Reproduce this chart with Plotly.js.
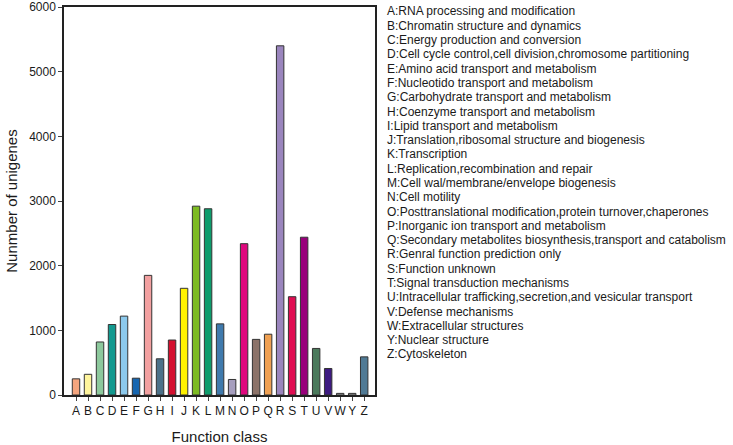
<!DOCTYPE html>
<html>
<head>
<meta charset="utf-8">
<script src="https://cdn.plot.ly/plotly-3.0.1.min.js"></script>
<style>
  html, body { margin: 0; padding: 0; background: #fff; }
  #chart { width: 733px; height: 445px; }
</style>
</head>
<body>
<div id="chart"></div>
<script>
// COG function classes (X is not present in the figure)
const classes = ["A", "B", "C", "D", "E", "F", "G", "H", "I", "J", "K", "L", "M",
                 "N", "O", "P", "Q", "R", "S", "T", "U", "V", "W", "Y", "Z"];

// number of unigenes per class
const counts = [250, 320, 820, 1090, 1220, 260, 1850, 560, 850, 1650, 2920, 2880, 1100,
                240, 2340, 860, 940, 5400, 1520, 2440, 720, 410, 25, 25, 590];

const barColors = ["#F4A57E", "#FFF59D", "#8DC99D", "#13998F", "#8CC9EC", "#1666B0",
                   "#F2A0A0", "#4B7189", "#D4102F", "#FFF200", "#7DBB22", "#0E9C6C",
                   "#3F7AAD", "#A69EBE", "#DF087E", "#8C7369", "#EFA052", "#9A85BD",
                   "#E00D52", "#98007B", "#4B7A5C", "#3D1A80", "#ABABAB", "#ABABAB", "#507A95"];

const descriptions = [
    "A:RNA processing and modification",
    "B:Chromatin structure and dynamics",
    "C:Energy production and conversion",
    "D:Cell cycle control,cell division,chromosome partitioning",
    "E:Amino acid transport and metabolism",
    "F:Nucleotido transport and metabolism",
    "G:Carbohydrate transport and metabolism",
    "H:Coenzyme transport and metabolism",
    "I:Lipid transport and metabolism",
    "J:Translation,ribosomal structure and biogenesis",
    "K:Transcription",
    "L:Replication,recombination and repair",
    "M:Cell wal/membrane/envelope biogenesis",
    "N:Cell motility",
    "O:Posttranslational modification,protein turnover,chaperones",
    "P:Inorganic ion transport and metabolism",
    "Q:Secondary metabolites biosynthesis,transport and catabolism",
    "R:Genral function prediction only",
    "S:Function unknown",
    "T:Signal transduction mechanisms",
    "U:Intracellular trafficking,secretion,and vesicular transport",
    "V:Defense mechanisms",
    "W:Extracellular structures",
    "Y:Nuclear structure",
    "Z:Cytoskeleton"
];

const fontFamily = "Liberation Sans, Arial, sans-serif";

let trace = {
    x: classes,
    y: counts,
    type: 'bar',
    marker: {
        color: barColors,
        line: { color: '#333333', width: 1 }
    },
    hoverinfo: 'x+y'
};

// legend text down the right side, one line per class
// plot area spans y = 7..395 px, lines start at ~11 px with ~14.3 px spacing
let notes = descriptions.map((txt, i) => ({
    text: txt,
    xref: 'paper',
    yref: 'paper',
    x: 1.032,
    y: (395 - (11.5 + 14.29 * i)) / 388,
    xanchor: 'left',
    yanchor: 'middle',
    showarrow: false,
    align: 'left',
    font: { family: fontFamily, size: 12, color: '#1a1a1a' }
}));

let layout = {
    width: 733,
    height: 445,
    margin: { l: 64, r: 358, t: 7, b: 50 },
    paper_bgcolor: '#ffffff',
    plot_bgcolor: '#ffffff',
    showlegend: false,
    bargap: 0.38,
    font: { family: fontFamily, size: 12, color: '#1a1a1a' },
    xaxis: {
        type: 'category',
        range: [-1, 24.9],
        tickmode: 'linear',
        tick0: 0,
        dtick: 1,
        showgrid: false,
        zeroline: false,
        showline: true,
        mirror: true,
        linecolor: '#222222',
        linewidth: 1.5,
        ticks: 'outside',
        ticklen: 4,
        tickcolor: '#444444',
        tickfont: { family: fontFamily, size: 12, color: '#1a1a1a' },
        title: {
            text: 'Function class',
            font: { family: fontFamily, size: 15, color: '#1a1a1a' },
            standoff: 14
        }
    },
    yaxis: {
        range: [0, 6000],
        dtick: 1000,
        showgrid: false,
        zeroline: false,
        showline: true,
        mirror: true,
        linecolor: '#222222',
        linewidth: 1.5,
        ticks: 'outside',
        ticklen: 4,
        tickcolor: '#444444',
        tickfont: { family: fontFamily, size: 12, color: '#1a1a1a' },
        title: {
            text: 'Nunmber of unigenes',
            font: { family: fontFamily, size: 15, color: '#1a1a1a' },
            standoff: 8
        }
    },
    annotations: notes
};

Plotly.newPlot('chart', [trace], layout, { displayModeBar: false, responsive: false });
</script>
</body>
</html>
